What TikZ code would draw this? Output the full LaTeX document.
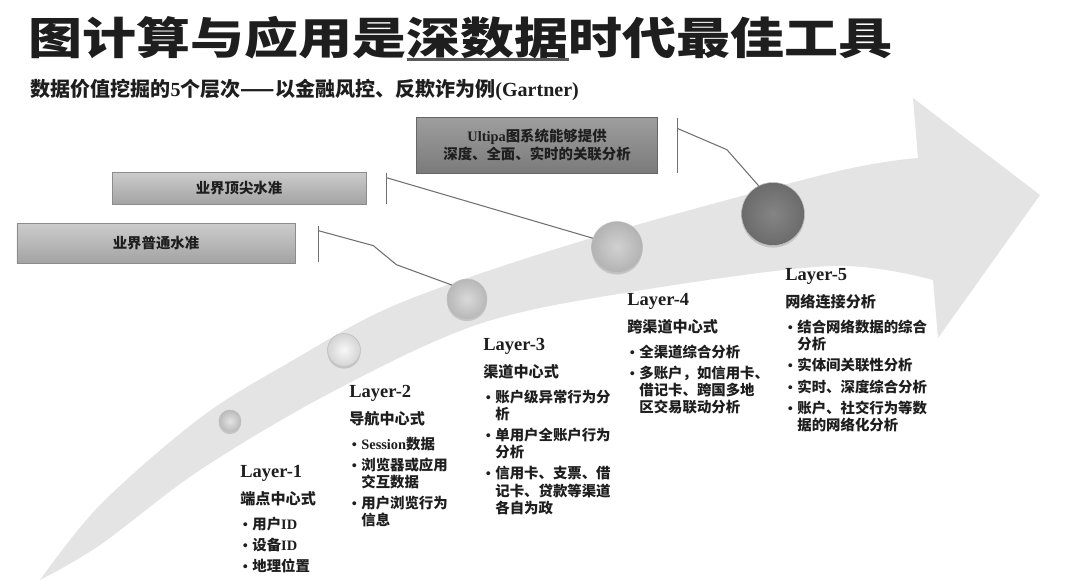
\documentclass[tikz,border=0pt]{standalone}
\usepackage{fontspec}
\setmainfont{Liberation Serif}
\newfontfamily\cjk{Noto Sans CJK SC}
\usetikzlibrary{positioning, calc, shadows}

\definecolor{bandgray}{HTML}{E4E4E4}
\definecolor{txt}{HTML}{1E1E1E}
\definecolor{leadgray}{HTML}{707070}

\newcommand{\lat}[1]{{\rmfamily #1}}
\newcommand{\subhd}{\bfseries\fontsize{8.6}{9.7}\selectfont}
\newcommand{\bul}{\hspace*{0.05cm}\makebox[0.19cm][l]{\lat{\textbullet}}}
\newcommand{\ind}{\hspace*{0.24cm}}

\begin{document}
\begin{tikzpicture}[x=0.2mm, y=-0.2mm,
    lyr/.style={anchor=base west, inner sep=0pt, text=txt, font=\rmfamily\bfseries\fontsize{10.5}{12}\selectfont},
    body/.style={anchor=north west, inner sep=0pt, align=left, text=txt, font=\cjk\bfseries\fontsize{8.2}{9.7}\selectfont},
    lvl/.style={draw=#1, minimum height=0.8cm, inner sep=0pt, align=center, text=txt, font=\cjk\bfseries\fontsize{8.2}{10.2}\selectfont},
    sph/.style={circle, inner sep=0pt, draw=black!25, line width=0.3pt, shade, shading=radial,
                drop shadow={shadow xshift=0pt, shadow yshift=-1.2pt, opacity=0.3}},
    lead/.style={draw=leadgray, line width=0.6pt}]
    \useasboundingbox (0,0) rectangle (1080,581);
    \fill[white] (0,0) rectangle (1080,581);

    % big curved arrow
    \fill[bandgray] plot[smooth, tension=0.55] coordinates {(40,580) (100,505) (200,418) (290,362) (400,303) (585,240) (830,173) (918,158)}
        -- (913,98) -- (1040,195) -- (938,338) -- (933,280)
        -- plot[smooth, tension=0.55] coordinates {(933,280) (830,266) (624,293) (476,325) (330,393) (200,470) (100,545) (40,580)} -- cycle;

    % title
    \node[anchor=west, inner sep=0pt, text=txt, font=\cjk\bfseries\fontsize{25}{25}\selectfont] (title) at (28,38)
        {\scalebox{1.23}[1]{图计算与应用是深数据时代最佳工具}};
    \draw[draw=black!65, line width=0.05cm] ($(title.south west)!7/16!(title.south east)$) -- ($(title.south west)!10/16!(title.south east)$);
    \node[anchor=west, inner sep=0pt, text=txt, font=\cjk\bfseries\fontsize{11.4}{13}\selectfont] (sub) at (30,90)
        {数据价值挖掘的\lat{5}个层次——以金融风控、反欺诈为例\lat{(Gartner)}};

    % level boxes
    \node[lvl=black!45, top color=black!20, bottom color=black!36, minimum width=5.56cm] (bxA) at (156,243) {业界普通水准};
    \node[lvl=black!45, top color=black!20, bottom color=black!36, minimum width=5.08cm, minimum height=0.64cm] (bxB) at (239,188) {业界顶尖水准};
    \node[lvl=black!60, top color=black!38, bottom color=black!52, minimum width=4.82cm, minimum height=1.12cm] (bxC) at (537,145)
        {\lat{Ultipa}图系统能够提供\\深度、全面、实时的关联分析};

    % spheres
    \node[sph, minimum size=0.44cm, inner color=black!11, outer color=black!27] (c1) at (230,421) {};
    \node[sph, minimum size=0.66cm, inner color=black!3, outer color=black!17] (c2) at (344,350) {};
    \node[sph, minimum size=0.80cm, inner color=black!15, outer color=black!28] (c3) at (467,299) {};
    \node[sph, minimum size=1.02cm, inner color=black!18, outer color=black!30] (c4) at (617,247) {};
    \node[sph, minimum size=1.26cm, inner color=black!48, outer color=black!58] (c5) at (773,214) {};

    % leaders
    \draw[lead] ($(bxA.north east)+(23,3)$) -- ($(bxA.south east)+(23,-1)$);
    \coordinate (aS) at ($(bxA.north east)+(23,8)$);
    \draw[lead] (aS) -- ++(55,15) -- ++(23,19) -- (c3.137);
    \draw[lead] ($(bxB.north east)+(20,1)$) -- ($(bxB.south east)+(20,0)$);
    \coordinate (bS) at ($(bxB.north east)+(20,6)$);
    \draw[lead] (bS) -- (c4.160);
    \draw[lead] ($(bxC.north east)+(20,1)$) -- ($(bxC.south east)+(20,0)$);
    \coordinate (cS) at ($(bxC.north east)+(20,12)$);
    \draw[lead] (cS) -- ++(49,21) -- (c5.117);

    % layers
    \node[lyr] (l1) at (240,477) {Layer-1};
    \node[lyr] (l2) at (349,397) {Layer-2};
    \node[lyr] (l3) at (483,350) {Layer-3};
    \node[lyr] (l4) at (627,305) {Layer-4};
    \node[lyr] (l5) at (785,280) {Layer-5};

    \node[body, below right=0.2cm and 0cm of l1.south west] (t1) {{\subhd 端点中心式}\\[4.5pt]
        \bul 用户\lat{ID}\\[2.3pt]
        \bul 设备\lat{ID}\\[2.3pt]
        \bul 地理位置};
    \node[body, below right=0.2cm and 0cm of l2.south west] (t2) {{\subhd 导航中心式}\\[4.5pt]
        \bul \lat{Session}数据\\[2.3pt]
        \bul 浏览器或应用\\ \ind 交互数据\\[2.3pt]
        \bul 用户浏览行为\\ \ind 信息};
    \node[body, below right=0.2cm and 0cm of l3.south west] (t3) {{\subhd 渠道中心式}\\[4.5pt]
        \bul 账户级异常行为分\\ \ind 析\\[2.3pt]
        \bul 单用户全账户行为\\ \ind 分析\\[2.3pt]
        \bul 信用卡、支票、借\\ \ind 记卡、贷款等渠道\\ \ind 各自为政};
    \node[body, below right=0.2cm and 0cm of l4.south west] (t4) {{\subhd 跨渠道中心式}\\[4.5pt]
        \bul 全渠道综合分析\\[2.3pt]
        \bul 多账户，如信用卡、\\ \ind 借记卡、跨国多地\\ \ind 区交易联动分析};
    \node[body, below right=0.2cm and 0cm of l5.south west] (t5) {{\subhd 网络连接分析}\\[4.5pt]
        \bul 结合网络数据的综合\\ \ind 分析\\[2.3pt]
        \bul 实体间关联性分析\\[2.3pt]
        \bul 实时、深度综合分析\\[2.3pt]
        \bul 账户、社交行为等数\\ \ind 据的网络化分析};
\end{tikzpicture}
\end{document}
